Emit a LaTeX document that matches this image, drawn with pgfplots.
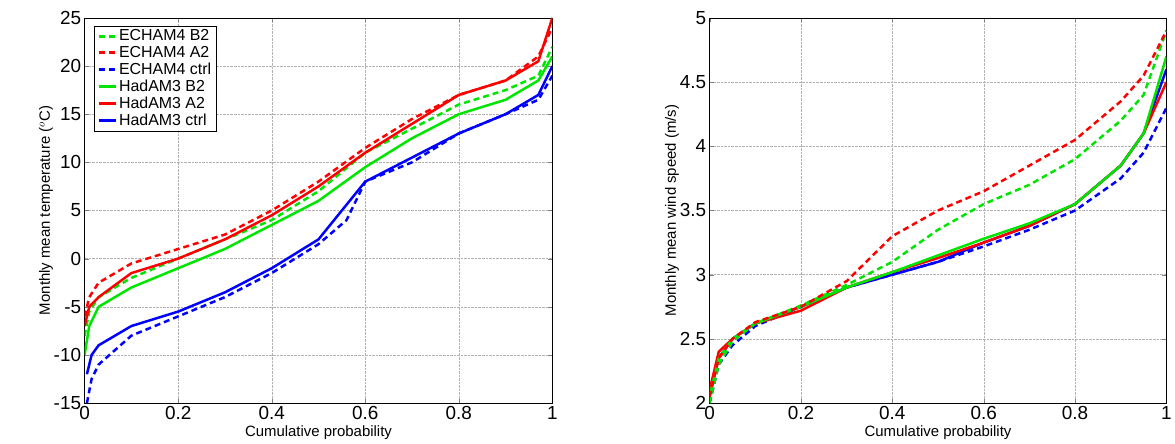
\documentclass[border=0pt]{standalone}
\usepackage{pgfplots}
\pgfplotsset{compat=1.18}
\usepackage{fontspec}
\setmainfont{Liberation Sans}
\begin{document}
\begin{tikzpicture}
\path (0pt,0pt) rectangle (1175pt,441pt);
\pgfplotsset{myax/.style={scale only axis, anchor=south west,
 xmin=0,xmax=1, grid=major, major grid style={densely dotted,gray!60},
 tick label style={font=\fontsize{19}{20}\selectfont},
 label style={font=\fontsize{15}{16}\selectfont},
 /pgf/number format/assume math mode=true,
 xtick={0,0.2,...,1}, xticklabels={0,0.2,0.4,0.6,0.8,1},
 xlabel={Cumulative probability}, tick align=inside, axis line style={black},
 xlabel style={yshift=1pt}},
 dsh/.style={dash pattern=on 6pt off 4pt}}
\begin{axis}[myax, at={(85pt,36pt)}, width=470pt, height=387pt, ymin=-15, ymax=25, ytick={-15,-10,...,25},
 ylabel={Monthly mean temperature ($^o$C)}, ylabel style={yshift=-6pt},
 legend cell align=left, legend style={font=\fontsize{16}{19}\selectfont, draw=black, at={(0.02,0.98)}, anchor=north west},
 legend image post style={line width=3pt}]
\addplot[green!90!black, line width=2.5pt, dsh] coordinates {(0,-8)(0.01,-5.5)(0.03,-4)(0.1,-2)(0.2,0)(0.3,2)(0.4,4)(0.5,7)(0.6,11)(0.7,13.5)(0.8,16)(0.9,17.5)(0.97,19)(1,22)};
\addplot[red, line width=2.5pt, dsh] coordinates {(0,-6)(0.01,-4)(0.03,-2.5)(0.1,-0.5)(0.2,1)(0.3,2.5)(0.4,5)(0.5,8)(0.6,11.5)(0.7,14.5)(0.8,17)(0.9,18.5)(0.97,21)(1,24)};
\addplot[blue, line width=2.5pt, dsh] coordinates {(0.005,-15)(0.015,-12.5)(0.03,-11)(0.1,-8)(0.2,-6)(0.3,-4)(0.4,-1.5)(0.5,1.5)(0.56,4)(0.6,8)(0.7,10)(0.8,13)(0.9,15)(0.97,16.5)(1,19)};
\addplot[green!90!black, line width=2.5pt] coordinates {(0,-10)(0.01,-7)(0.03,-5)(0.1,-3)(0.2,-1)(0.3,1)(0.4,3.5)(0.5,6)(0.6,9.5)(0.7,12.5)(0.8,15)(0.9,16.5)(0.97,18.5)(1,21)};
\addplot[red, line width=2.5pt] coordinates {(0,-7)(0.01,-5)(0.03,-4)(0.1,-1.5)(0.2,0)(0.3,2)(0.4,4.5)(0.5,7.5)(0.6,11)(0.7,14)(0.8,17)(0.9,18.5)(0.97,20.5)(1,25)};
\addplot[blue, line width=2.5pt] coordinates {(0.005,-12)(0.015,-10)(0.03,-9)(0.1,-7)(0.2,-5.5)(0.3,-3.5)(0.4,-1)(0.5,2)(0.55,5)(0.6,8)(0.7,10.5)(0.8,13)(0.9,15)(0.97,17)(1,20)};
\legend{ECHAM4 B2,ECHAM4 A2,ECHAM4 ctrl,HadAM3 B2,HadAM3 A2,HadAM3 ctrl}
\end{axis}
\begin{axis}[myax, at={(713pt,36pt)}, width=459pt, height=387pt, ymin=2, ymax=5, ytick={2,2.5,...,5},
 yticklabels={2,2.5,3,3.5,4,4.5,5},
 ylabel={Monthly mean wind speed (m/s)}, ylabel style={yshift=-6pt}]
\addplot[blue, line width=2.5pt, dsh] coordinates {(0,2.0)(0.02,2.3)(0.05,2.45)(0.1,2.6)(0.2,2.75)(0.3,2.9)(0.4,3.0)(0.5,3.1)(0.6,3.22)(0.7,3.35)(0.8,3.5)(0.9,3.75)(0.95,3.95)(1,4.3)};
\addplot[blue, line width=2.5pt] coordinates {(0,2.1)(0.02,2.35)(0.05,2.5)(0.1,2.62)(0.2,2.75)(0.3,2.9)(0.4,3.0)(0.5,3.1)(0.6,3.25)(0.7,3.38)(0.8,3.55)(0.9,3.85)(0.95,4.1)(1,4.6)};
\addplot[red, line width=2.5pt] coordinates {(0,2.1)(0.02,2.4)(0.05,2.5)(0.1,2.62)(0.2,2.72)(0.3,2.9)(0.4,3.02)(0.5,3.13)(0.6,3.25)(0.7,3.38)(0.8,3.55)(0.9,3.85)(0.95,4.1)(1,4.5)};
\addplot[green!90!black, line width=2.5pt] coordinates {(0,2.05)(0.02,2.35)(0.05,2.5)(0.1,2.62)(0.2,2.75)(0.3,2.9)(0.4,3.02)(0.5,3.15)(0.6,3.28)(0.7,3.4)(0.8,3.55)(0.9,3.85)(0.95,4.1)(1,4.7)};
\addplot[green!90!black, line width=2.5pt, dsh] coordinates {(0,2.0)(0.02,2.3)(0.05,2.48)(0.1,2.62)(0.2,2.76)(0.3,2.92)(0.4,3.1)(0.5,3.35)(0.6,3.55)(0.7,3.7)(0.8,3.9)(0.9,4.2)(0.95,4.4)(1,4.9)};
\addplot[red, line width=2.5pt, dsh] coordinates {(0,2.05)(0.02,2.35)(0.05,2.5)(0.1,2.63)(0.2,2.75)(0.3,2.95)(0.4,3.3)(0.5,3.5)(0.6,3.65)(0.7,3.85)(0.8,4.05)(0.9,4.35)(0.95,4.55)(1,4.9)};
\end{axis}
\end{tikzpicture}
\end{document}
